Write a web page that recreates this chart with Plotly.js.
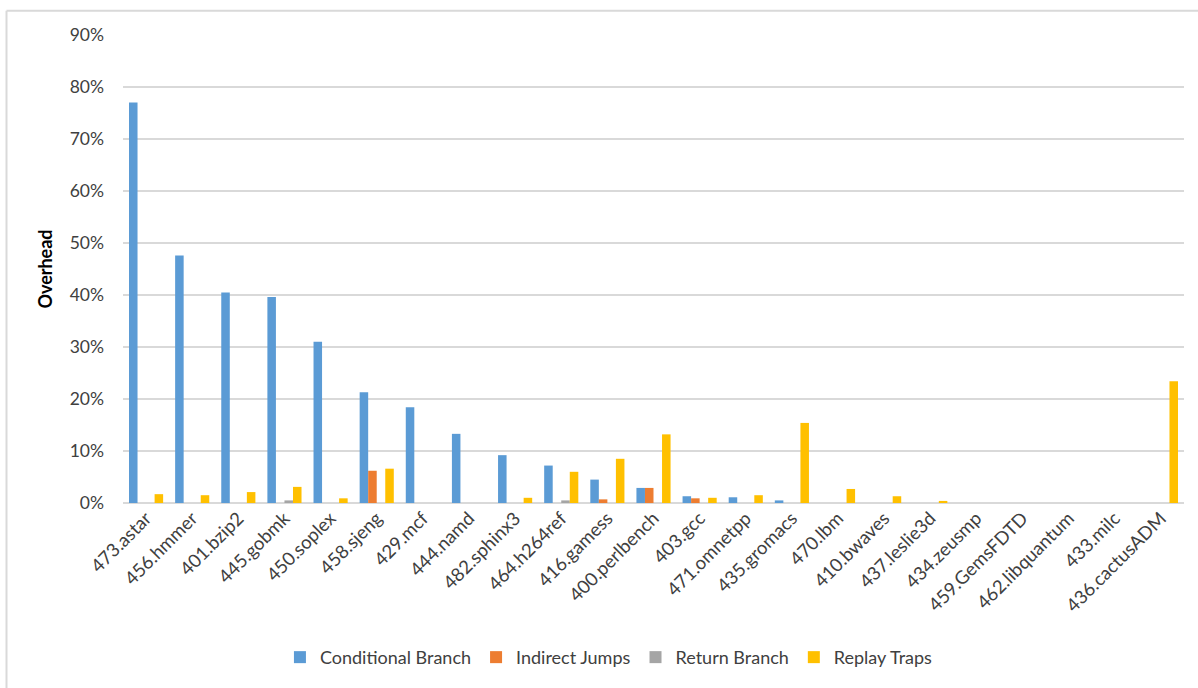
<!DOCTYPE html>
<html>
<head>
<meta charset="utf-8">
<script src="https://cdn.plot.ly/plotly-3.0.1.min.js"></script>
<style>
  html, body { margin: 0; padding: 0; background: #ffffff; }
  #chart { width: 1198px; height: 688px; }
</style>
</head>
<body>
<div id="chart"></div>
<script>
// SPEC CPU2006 benchmarks, ordered by conditional-branch overhead
const benchmarks = [
  "473.astar", "456.hmmer", "401.bzip2", "445.gobmk", "450.soplex", "458.sjeng",
  "429.mcf", "444.namd", "482.sphinx3", "464.h264ref", "416.gamess", "400.perlbench",
  "403.gcc", "471.omnetpp", "435.gromacs", "470.lbm", "410.bwaves", "437.leslie3d",
  "434.zeusmp", "459.GemsFDTD", "462.libquantum", "433.milc", "436.cactusADM"
];

// Overhead per source (fraction of runtime)
const conditionalBranch = [
  0.770, 0.476, 0.405, 0.396, 0.310, 0.213,
  0.184, 0.133, 0.092, 0.072, 0.045, 0.029,
  0.013, 0.011, 0.005, 0.000, 0.000, 0.000,
  0.000, 0.000, 0.000, 0.000, 0.000
];
const indirectJumps = [
  0.000, 0.000, 0.000, 0.000, 0.000, 0.062,
  0.000, 0.000, 0.000, 0.000, 0.007, 0.029,
  0.009, 0.000, 0.000, 0.000, 0.000, 0.000,
  0.000, 0.000, 0.000, 0.000, 0.000
];
const returnBranch = [
  0.000, 0.000, 0.000, 0.005, 0.000, 0.000,
  0.000, 0.000, 0.000, 0.005, 0.000, 0.000,
  0.000, 0.000, 0.000, 0.000, 0.000, 0.000,
  0.000, 0.000, 0.000, 0.000, 0.000
];
const replayTraps = [
  0.017, 0.015, 0.021, 0.031, 0.009, 0.066,
  0.000, 0.000, 0.010, 0.060, 0.085, 0.132,
  0.010, 0.015, 0.154, 0.027, 0.013, 0.004,
  0.000, 0.000, 0.000, 0.000, 0.234
];

const yTicks = [0, 0.1, 0.2, 0.3, 0.4, 0.5, 0.6, 0.7, 0.8, 0.9];
const yTickLabels = ["0%", "10%", "20%", "30%", "40%", "50%", "60%", "70%", "80%", "90%"];

const seriesNames = ["Conditional Branch", "Indirect Jumps", "Return Branch", "Replay Traps"];
const seriesValues = [conditionalBranch, indirectJumps, returnBranch, replayTraps];
const seriesColors = ["#5b9bd5", "#ed7d31", "#a5a5a5", "#ffc000"];

const FONT = "Lato, 'Liberation Sans', sans-serif";
const TEXT = "#404040";

const traces = seriesNames.map((name, i) => ({
  type: "bar",
  name: name,
  x: benchmarks,
  y: seriesValues[i],
  marker: { color: seriesColors[i], line: { width: 0 } },
  hovertemplate: "%{x}<br>" + name + ": %{y:.1%}<extra></extra>"
}));

const layout = {
  width: 1198,
  height: 688,
  margin: { l: 123, r: 14, t: 35, b: 182 },
  paper_bgcolor: "#ffffff",
  plot_bgcolor: "#ffffff",
  font: { family: FONT, size: 18, color: TEXT },
  barmode: "group",
  bargap: 0.26,
  bargroupgap: 0,
  showlegend: true,
  legend: {
    orientation: "h",
    x: 0.458, xanchor: "center",
    y: -0.330, yanchor: "middle",
    font: { family: FONT, size: 18, color: TEXT },
    itemwidth: 30,
    traceorder: "normal"
  },
  xaxis: {
    type: "category",
    tickangle: -45,
    tickfont: { family: FONT, size: 18.5, color: TEXT },
    showgrid: false,
    showline: false,
    ticks: "",
    automargin: false
  },
  yaxis: {
    range: [0, 0.9],
    tickvals: yTicks,
    ticktext: yTickLabels,
    tickfont: { family: FONT, size: 17.5, color: TEXT },
    ticklabelstandoff: 18,
    showgrid: true,
    gridcolor: "#d9d9d9",
    gridwidth: 1.3,
    zeroline: true,
    zerolinecolor: "#d9d9d9",
    zerolinewidth: 1.3,
    showline: false,
    ticks: "",
    automargin: false,
    title: {
      text: "<b>Overhead</b>",
      font: { family: FONT, size: 18, color: "#000000" },
      standoff: 12
    }
  },
  shapes: [
    // chart frame: left and top edges
    {
      type: "line", xref: "paper", yref: "paper",
      x0: -0.1098, x1: -0.1098, y0: 1.052, y1: -0.40,
      line: { color: "#d9d9d9", width: 2 }
    },
    {
      type: "line", xref: "paper", yref: "paper",
      x0: -0.1098, x1: 1.03, y0: 1.052, y1: 1.052,
      line: { color: "#d9d9d9", width: 2 }
    }
  ]
};

Plotly.newPlot("chart", traces, layout, { displayModeBar: false, staticPlot: true });
</script>
</body>
</html>
